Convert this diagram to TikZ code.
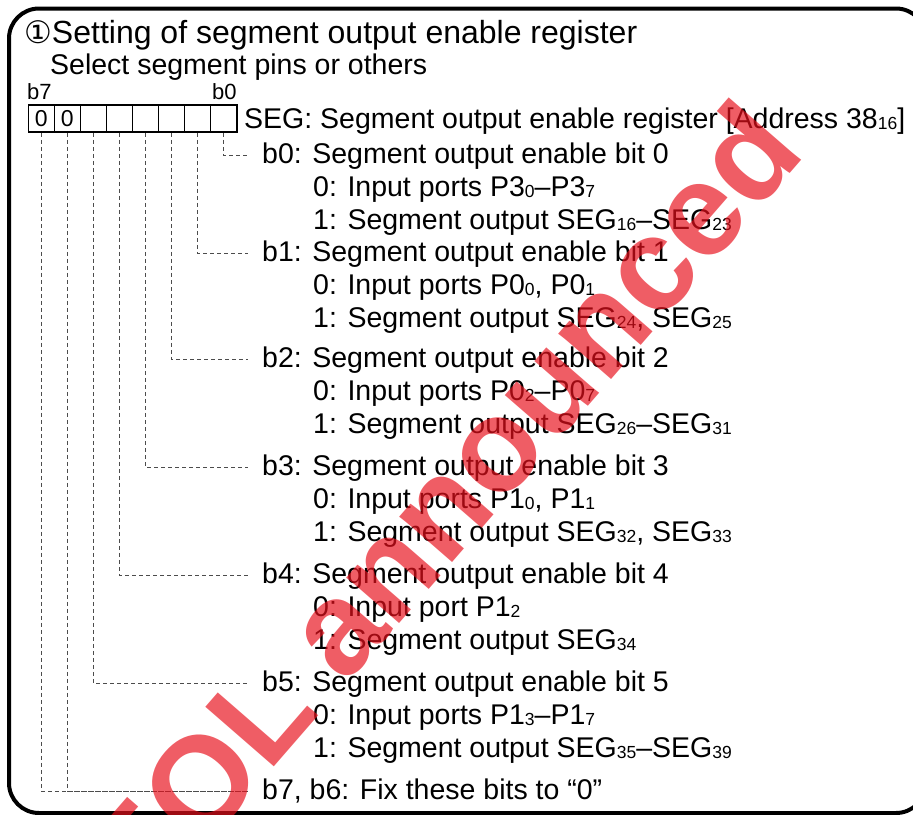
\documentclass[tikz,border=0pt]{standalone}
\usepackage{fontspec}
\setmainfont{Liberation Sans}
\newfontfamily\symfont{DejaVu Sans}
\usetikzlibrary{positioning}
\definecolor{eolred}{HTML}{E8101C}
\newcommand{\lowidx}[1]{{\fontsize{17.5}{17.5}\selectfont\raisebox{-1pt}{#1}}}

\begin{document}
\begin{tikzpicture}[x=1pt,y=-1pt,
  txt/.style={anchor=base west,inner sep=0pt,font=\fontsize{28.5}{33}\selectfont},
  bithead/.style={txt,inner xsep=14pt,text height=21pt,text depth=5pt},
  regcell/.style={draw,line width=1.6pt,minimum width=26.05pt,minimum height=27pt,
    inner sep=0pt,font=\fontsize{23}{23}\selectfont},
  dashline/.style={black!70,line width=0.9pt,dash pattern=on 4pt off 3pt}]
  \useasboundingbox (0,0) rectangle (913,814);

  % Frame
  \draw[line width=4pt,rounded corners=30pt] (9,8.5) rectangle (926,813);

  % Heading
  \node[txt,font=\fontsize{32}{34}\selectfont] (title) at (24,43)
    {{\symfont\fontsize{31}{31}\selectfont ①}Setting of segment output enable register};
  \node[txt] (subtitle) at (50,74) {Select segment pins or others};

  % Register
  \node[txt,font=\fontsize{22}{22}\selectfont] (lb7) at (27,99) {b7};
  \node[txt,font=\fontsize{22}{22}\selectfont] (lb0) at (212,99) {b0};
  \foreach \b in {0,...,7}
    \node[regcell] (c\b) at ({28.3+26.05*(7.5-\b)},118.5) {\ifnum\b>5 0\fi};
  \node[txt] (segreg) at (244,128.5)
    {SEG: Segment output enable register [Address 38\lowidx{16}]};

  % Bit 0
  \node[bithead] (hb0) at (248,163) {b0: Segment output enable bit 0};
  \node[txt] (hb0z) at (313,196) {0: Input ports P3\lowidx{0}–P3\lowidx{7}};
  \node[txt] (hb0o) at (313,229) {1: Segment output SEG\lowidx{16}–SEG\lowidx{23}};

  % Bit 1
  \node[bithead] (hb1) at (248,261) {b1: Segment output enable bit 1};
  \node[txt] (hb1z) at (313,294) {0: Input ports P0\lowidx{0}, P0\lowidx{1}};
  \node[txt] (hb1o) at (313,327) {1: Segment output SEG\lowidx{24}, SEG\lowidx{25}};

  % Bit 2
  \node[bithead] (hb2) at (248,367) {b2: Segment output enable bit 2};
  \node[txt] (hb2z) at (313,400) {0: Input ports P0\lowidx{2}–P0\lowidx{7}};
  \node[txt] (hb2o) at (313,433) {1: Segment output SEG\lowidx{26}–SEG\lowidx{31}};

  % Bit 3
  \node[bithead] (hb3) at (248,475) {b3: Segment output enable bit 3};
  \node[txt] (hb3z) at (313,508) {0: Input ports P1\lowidx{0}, P1\lowidx{1}};
  \node[txt] (hb3o) at (313,541) {1: Segment output SEG\lowidx{32}, SEG\lowidx{33}};

  % Bit 4
  \node[bithead] (hb4) at (248,583) {b4: Segment output enable bit 4};
  \node[txt] (hb4z) at (313,616) {0: Input port P1\lowidx{2}};
  \node[txt] (hb4o) at (313,649) {1: Segment output SEG\lowidx{34}};

  % Bit 5
  \node[bithead] (hb5) at (248,691) {b5: Segment output enable bit 5};
  \node[txt] (hb5z) at (313,724) {0: Input ports P1\lowidx{3}–P1\lowidx{7}};
  \node[txt] (hb5o) at (313,757) {1: Segment output SEG\lowidx{35}–SEG\lowidx{39}};

  % Bits 7, 6
  \node[bithead] (hb76) at (248,799) {b7, b6: Fix these bits to “0”};

  % Leader lines
  \foreach \b in {0,...,5}
    \draw[dashline] (c\b.south) |- (hb\b.west);
  \draw[dashline] (c6.south) |- (hb76.west);
  \draw[dashline] (c7.south) |- (hb76.west);

  % Watermark
  \node[rotate=49,inner sep=0pt,text=eolred,opacity=0.68,
    font=\fontsize{132}{132}\selectfont\bfseries] (eol) at (440,505) {EOL announced};
\end{tikzpicture}
\end{document}
